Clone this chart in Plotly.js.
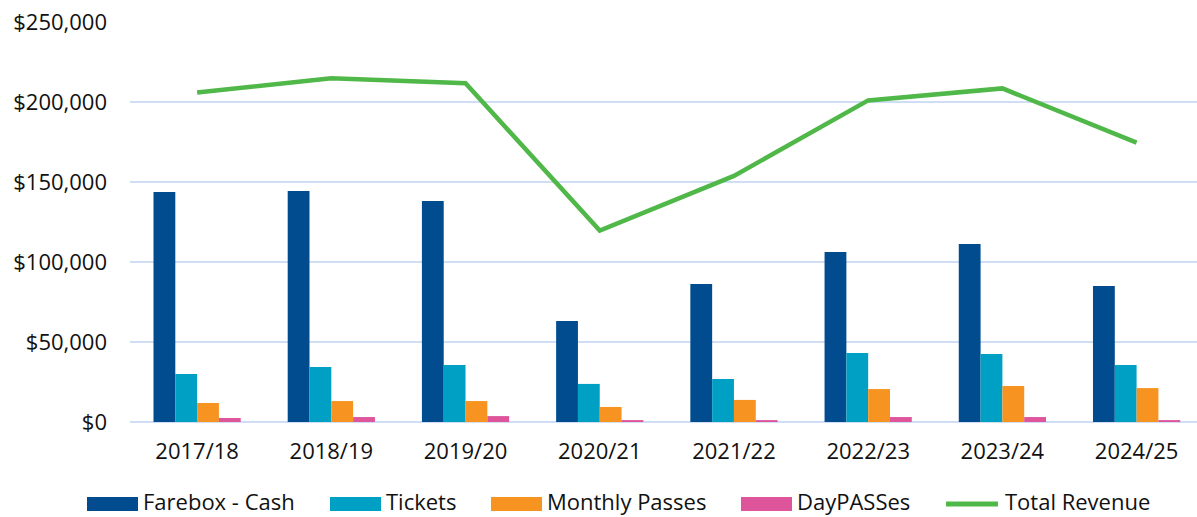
<!DOCTYPE html>
<html>
<head>
<meta charset="utf-8">
<script src="https://cdn.plot.ly/plotly-3.0.1.min.js"></script>
<style>html,body{margin:0;padding:0;background:#fff;}#chart{width:1197px;height:517px;}</style>
</head>
<body>
<div id="chart"></div>
<script>
const years = ["2017/18","2018/19","2019/20","2020/21","2021/22","2022/23","2023/24","2024/25"];
const fareboxCash = [143800, 144400, 138100, 63100, 86200, 106200, 111200, 85000];
const tickets = [30000, 34400, 35600, 23800, 26900, 43100, 42500, 35600];
const monthlyPasses = [11900, 13100, 13100, 9400, 13800, 20600, 22500, 21200];
const dayPasses = [2500, 3100, 3700, 1200, 1200, 3100, 3100, 1200];
const totalRevenue = [206000, 214800, 211700, 119600, 153800, 201000, 208500, 174600];
const seriesNames = ["Farebox - Cash", "Tickets", "Monthly Passes", "DayPASSes", "Total Revenue"];

const FONT = "Open Sans, Liberation Sans, sans-serif";
const COLORS = ["#014c8f", "#00a0c4", "#f79421", "#de559c", "#50b848"];
const barData = [fareboxCash, tickets, monthlyPasses, dayPasses];

const traces = barData.map((vals, i) => ({
  type:"bar", name:seriesNames[i], x:years, y:vals, marker:{color:COLORS[i]}, showlegend:false
}));
traces.push({type:"scatter", mode:"lines", name:seriesNames[4], x:years, y:totalRevenue,
  line:{color:COLORS[4], width:4.5}, showlegend:false});

// Custom legend (layout only): pixel positions converted to paper coordinates
const L = 130, W = 1067, T = 22, H = 400;
const px = v => (v - L) / W;
const py = v => (T + H - v) / H;
const legendSwatchX = [87, 330, 491, 741, 944];
const legendSwatchW = [51, 51, 51, 51, 56];
const legendY = 504;
const shapes = [], annotations = [];
seriesNames.forEach((name, i) => {
  const x0 = legendSwatchX[i], x1 = x0 + legendSwatchW[i];
  if (i < 4) {
    shapes.push({type:"rect", xref:"paper", yref:"paper", x0:px(x0), x1:px(x1), y0:py(legendY+7), y1:py(legendY-7),
      fillcolor:COLORS[i], line:{width:0}});
  } else {
    shapes.push({type:"line", xref:"paper", yref:"paper", x0:px(x0+2), x1:px(x1-2), y0:py(legendY), y1:py(legendY),
      line:{color:COLORS[i], width:5}});
  }
  annotations.push({xref:"paper", yref:"paper", x:px(x1 + 3), y:py(legendY - 3), xanchor:"left", yanchor:"middle",
    text:name, showarrow:false, font:{size:22, color:"#111"}});
});

const layout = {
  width:1197, height:517,
  margin:{l:130, r:0, t:22, b:95},
  paper_bgcolor:"#fff", plot_bgcolor:"#fff",
  font:{family:FONT, size:22, color:"#111"},
  barmode:"group", bargap:0.35, bargroupgap:0,
  showlegend:false,
  shapes:shapes, annotations:annotations,
  xaxis:{type:"category", range:[-0.5, 7.45], showgrid:false, zeroline:false, showline:false, ticks:"", ticklabelstandoff:14, tickfont:{size:22}},
  yaxis:{range:[0,250000], dtick:50000, tickformat:"$,.0f", showgrid:true, gridcolor:"#d0def5", gridwidth:1.8, zeroline:true, zerolinecolor:"#d0def5", zerolinewidth:1.8, showline:false, ticks:"", ticklabelstandoff:22, tickfont:{size:22}}
};
Plotly.newPlot("chart", traces, layout, {displayModeBar:false, staticPlot:true});
</script>
</body>
</html>
